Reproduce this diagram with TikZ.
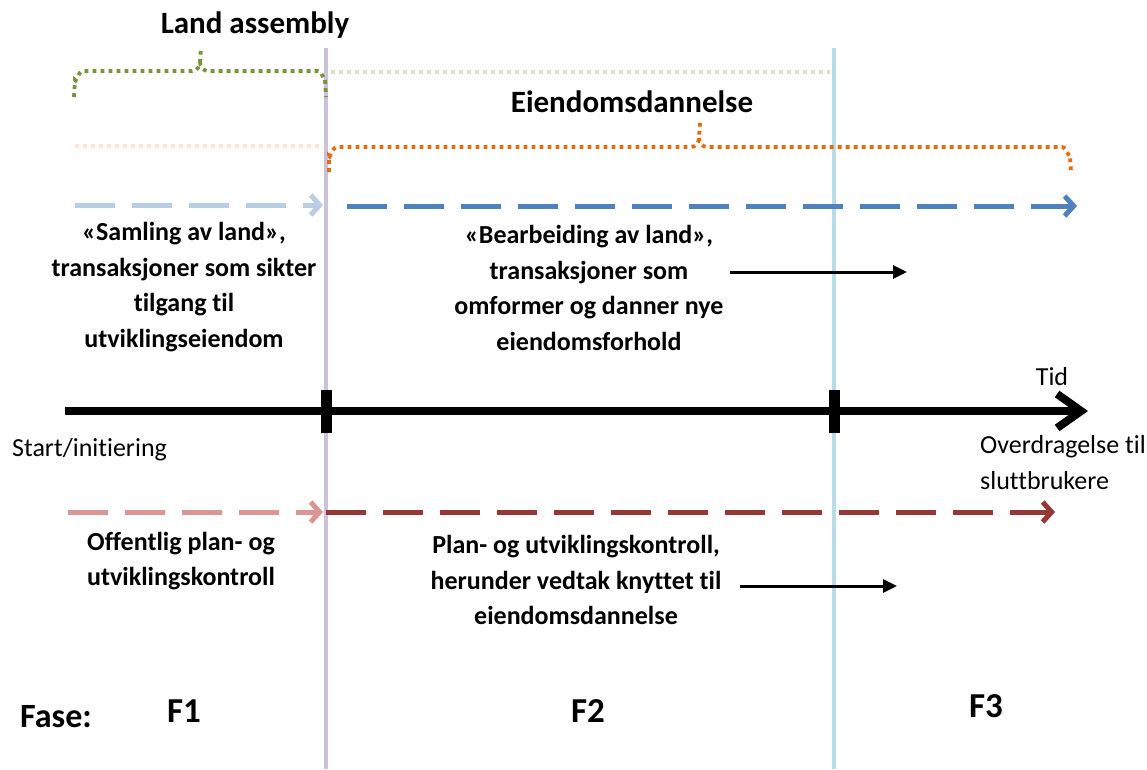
\documentclass[tikz,border=0pt]{standalone}
\usepackage{fontspec}
\setmainfont[Ligatures={NoCommon,NoRare,NoContextual}]{Carlito}
\usetikzlibrary{arrows.meta}
\definecolor{lineF1}{RGB}{204,193,218}
\definecolor{lineF2}{RGB}{183,222,232}
\definecolor{braceGreen}{RGB}{119,147,60}
\definecolor{paleGreen}{RGB}{215,228,189}
\definecolor{braceOrange}{RGB}{228,108,10}
\definecolor{paleOrange}{RGB}{252,228,210}
\definecolor{paleBlue}{RGB}{185,205,229}
\definecolor{flowBlue}{RGB}{79,129,189}
\definecolor{palePink}{RGB}{217,150,148}
\definecolor{flowRed}{RGB}{149,55,53}
\tikzset{
  phaseline/.style={line width=3.5pt},
  dotbrace/.style={line width=3.8pt, dash pattern=on 3.8pt off 4.2pt},
  dashflow/.style={line width=5pt, dash pattern=on 40pt off 17pt,
    -{Straight Barb[length=9pt,width=20pt,line width=5pt]}},
  body/.style={font=\bfseries\fontsize{26}{35.5}\selectfont, align=center, inner sep=0pt},
  plain/.style={font=\fontsize{26}{34}\selectfont, inner sep=0pt},
  heading/.style={font=\bfseries\fontsize{31}{36}\selectfont, inner sep=0pt},
  phase/.style={font=\bfseries\fontsize{35}{40}\selectfont, inner sep=0pt},
  thinarrow/.style={line width=3pt, -{Triangle[length=14pt,width=13pt]}},
  tick/.style={fill=black, draw=none}
}
\begin{document}
\begin{tikzpicture}[x=1pt,y=-1pt]
\useasboundingbox (0,0) rectangle (1147,769);

% phase boundaries
\coordinate (b1top) at (326,48);  \coordinate (b1bot) at (326,769);
\coordinate (b2top) at (834,48);  \coordinate (b2bot) at (834,769);
\draw[phaseline, lineF1] (b1top) -- (b1bot);
\draw[phaseline, lineF2] (b2top) -- (b2bot);

% land assembly brace
\node[heading] (landassembly) at (255,25) {Land assembly};
\draw[dotbrace, braceGreen] (74,97) -- (75,80) to[out=-90,in=180] (83,71)
  -- (192,71) to[out=0,in=-90] (200,62) -- (201,47);
\draw[dotbrace, braceGreen] (200,62) to[out=-90,in=180] (208,71)
  -- (318,71) to[out=0,in=-90] (325,80) -- (326,97);
\draw[dotbrace, paleGreen] (331,72) -- (830,72);

% eiendomsdannelse brace
\node[heading] (eiendom) at (632,102) {Eiendomsdannelse};
\draw[dotbrace, paleOrange] (75,146) -- (323,146);
\draw[dotbrace, braceOrange] (329,172) -- (329,156) to[out=-90,in=180] (337,147)
  -- (691,147) to[out=0,in=-90] (699,138) -- (700,123);
\draw[dotbrace, braceOrange] (699,138) to[out=-90,in=180] (707,147)
  -- (1062,147) to[out=0,in=-90] (1070,156) -- (1071,172);

% land transactions
\coordinate (sa) at (75,205);   \coordinate (sb) at (323,205);
\coordinate (ba) at (347,206);  \coordinate (bb) at (1077,206);
\draw[dashflow, paleBlue] (sa) -- (sb);
\draw[dashflow, flowBlue] (ba) -- (bb);

\node[body] (samling) at (184,287) {«Samling av land»,\\transaksjoner som sikter\\tilgang til\\utviklingseiendom};
\node[body] (bearbeiding) at (589,288) {«Bearbeiding av land»,\\transaksjoner som\\omformer og danner nye\\eiendomsforhold};
\coordinate (ta) at (730,272); \coordinate (tb) at (907,272);
\draw[thinarrow] (ta) -- (tb);

% time axis
\coordinate (t0) at (65,411); \coordinate (t1) at (1088,411);
\draw[line width=8pt, -{Straight Barb[length=24pt,width=34pt,line width=8pt]}] (t0) -- (t1);
\fill[tick] (320.5,390) rectangle (331.5,433);
\fill[tick] (828.5,390) rectangle (839.5,433);
\node[plain] (tid) at (1052,377) {Tid};
\node[plain, anchor=west] (start) at (12,450) {Start/initiering};
\node[plain, anchor=west] (overdr1) at (980,447) {Overdragelse til};
\node[plain, anchor=west] (overdr2) at (980,481) {sluttbrukere};

% planning control
\coordinate (pa) at (68,512);  \coordinate (pb) at (323,512);
\coordinate (ra) at (326,512); \coordinate (rb) at (1055,512);
\draw[dashflow, palePink] (pa) -- (pb);
\draw[dashflow, flowRed] (ra) -- (rb);

\node[body] (offentlig) at (181,561) {Offentlig plan- og\\utviklingskontroll};
\node[body] (plankontroll) at (576,580) {Plan- og utviklingskontroll,\\herunder vedtak knyttet til\\eiendomsdannelse};
\coordinate (ua) at (740,586); \coordinate (ub) at (897,586);
\draw[thinarrow] (ua) -- (ub);

% phases
\node[font=\bfseries\fontsize{34}{38}\selectfont, inner sep=0pt] (fase) at (56,717) {Fase:};
\node[phase] (f1) at (184,711) {F1};
\node[phase] (f2) at (588,711) {F2};
\node[phase] (f3) at (986,706) {F3};
\end{tikzpicture}
\end{document}
